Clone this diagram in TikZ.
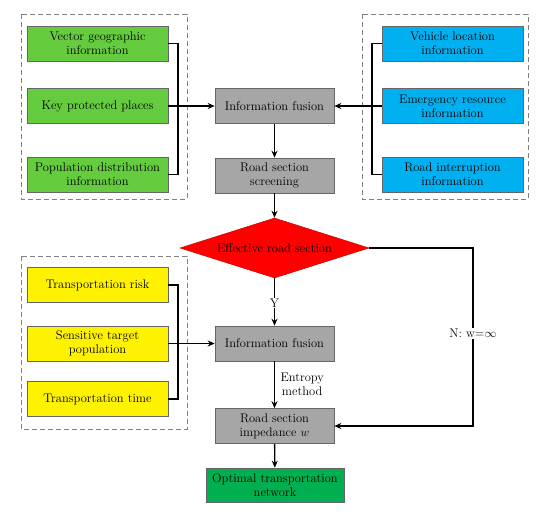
\documentclass[tikz,border=0pt]{standalone}
\usetikzlibrary{arrows.meta,shapes.geometric}
\definecolor{boxgreen}{RGB}{102,204,63}
\definecolor{boxblue}{RGB}{0,176,240}
\definecolor{boxgray}{RGB}{166,166,166}
\definecolor{boxdark}{RGB}{0,176,80}
\tikzset{
  txt/.style={font=\fontsize{12.5}{14}\selectfont,align=center},
  box/.style={txt,draw=gray!80!black,line width=0.6pt,minimum width=141pt,minimum height=35pt,inner sep=1pt},
  gbox/.style={box,fill=boxgreen},
  bbox/.style={box,fill=boxblue},
  ybox/.style={box,fill=yellow},
  pbox/.style={box,fill=boxgray,minimum width=119pt},
  frame/.style={draw=gray,dashed,line width=1pt,dash pattern=on 5pt off 3pt},
  link/.style={line width=1.4pt},
  arr/.style={link,-{Stealth[length=7pt,width=6pt]}},
}
\begin{document}
\begin{tikzpicture}[x=1pt,y=-1pt]
    \useasboundingbox (0,0) rectangle (550,517);%
    % dashed frames
    \draw[frame] (21,14) rectangle (187,199);%
    \draw[frame] (362,14) rectangle (528,199);%
    \draw[frame] (21,256) rectangle (187,429);%

    \node[gbox] (G1) at (97.5,43.5) {Vector geographic\\information};%
    \node[gbox] (G2) at (97.5,106) {Key protected places};%
    \node[gbox] (G3) at (97.5,174.5) {Population distribution\\information};%
    \node[bbox] (B1) at (452.5,43.5) {Vehicle location\\information};%
    \node[bbox] (B2) at (452.5,106) {Emergency resource\\information};%
    \node[bbox] (B3) at (452.5,174.5) {Road interruption\\information};%
    \node[ybox] (Y1) at (97.5,285) {Transportation risk};%
    \node[ybox] (Y2) at (97.5,343.5) {Sensitive target\\population};%
    \node[ybox] (Y3) at (97.5,399) {Transportation time};%

    \node[pbox] (F1) at (274.5,106) {Information fusion};%
    \node[pbox] (S) at (274.5,175.5) {Road section\\screening};%
    \node[txt,shape=diamond,shape aspect=3.15,fill=red,draw=red!80!black,line width=0.5pt,inner sep=0pt,minimum width=189pt,minimum height=60pt] (E) at (274.5,248) {Effective road section};%
    \node[pbox] (F2) at (274.5,343.5) {Information fusion};%
    \node[pbox] (W) at (274.5,426) {Road section\\impedance $w$};%
    \node[box,fill=boxdark,minimum width=138pt,minimum height=34pt] (O) at (275,485) {Optimal transportation\\network};%

    \coordinate (GB) at (178,106);%
    \coordinate (BB) at (372,106);%
    \coordinate (YB) at (178,343.5);%
    \coordinate (NC) at (473,426);%

    \draw[link] (G1.east) -| (GB) |- (G3.east);%
    \draw[arr] (G2.east) -- (F1.west);%
    \draw[link] (B1.west) -| (BB) |- (B3.west);%
    \draw[arr] (B2.west) -- (F1.east);%
    \draw[link] (Y1.east) -| (YB) |- (Y3.east);%
    \draw[arr] (Y2.east) -- (F2.west);%

    \draw[arr] (F1) -- (S);%
    \draw[arr] (S) -- (E);%
    \draw[arr] (E) -- node[txt,fill=white,inner sep=1pt,pos=0.52] {Y} (F2);%
    \draw[arr] (F2) -- node[txt,right=2pt] {Entropy\\method} (W);%
    \draw[arr] (W) -- (O);%
    \draw[arr] (E.east) -| node[txt,fill=white,inner sep=1pt,pos=0.74] {N: w=$\infty$} (NC) -- (W.east);%
\end{tikzpicture}
\end{document}
